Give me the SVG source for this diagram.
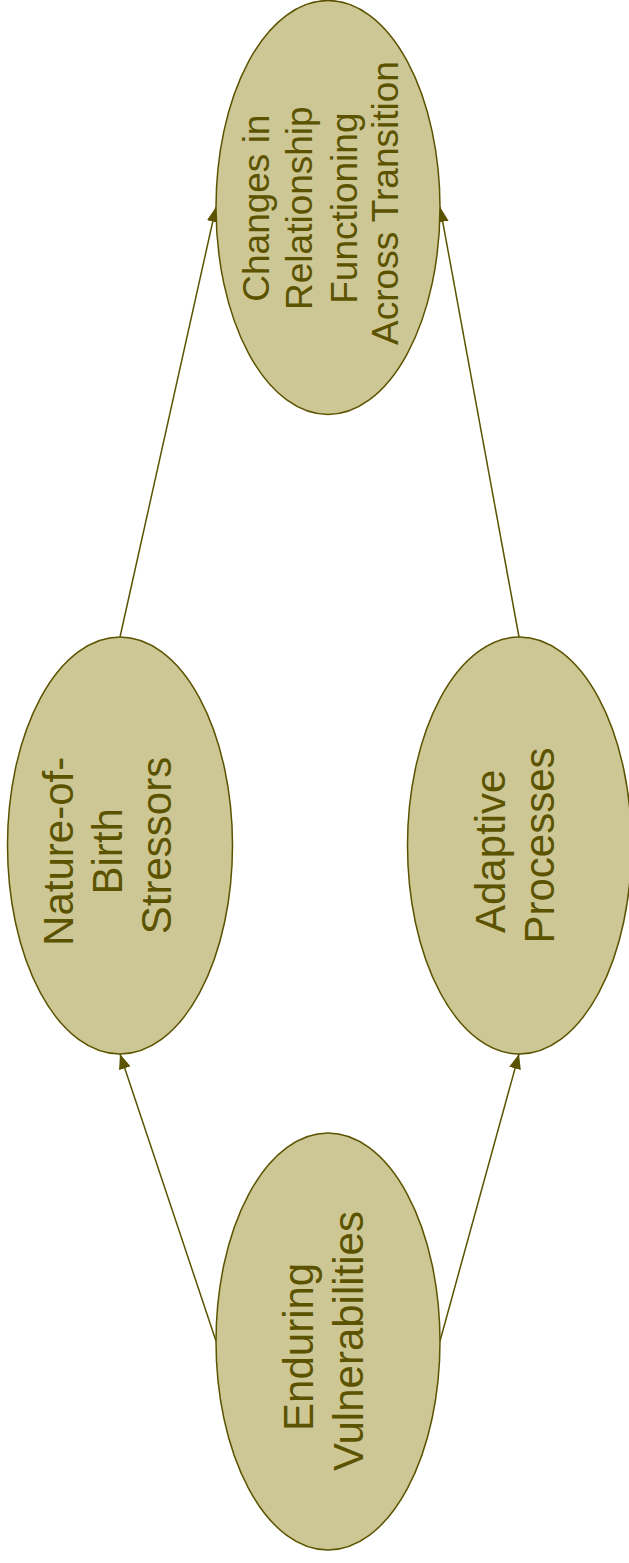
<svg xmlns="http://www.w3.org/2000/svg" width="629" height="1563" viewBox="0 0 629 1563">
<style>
.node{fill:#CCC794;stroke:#5C5300;stroke-width:1.5}
.lbl{font-family:"Liberation Sans",Arial,sans-serif;fill:#5C5300;text-anchor:middle}
.edge{stroke:#5C5300;stroke-width:1.5;fill:none;marker-end:url(#arr)}
</style>
<defs>
<marker id="arr" markerUnits="userSpaceOnUse" markerWidth="16" markerHeight="12" refX="15" refY="6" orient="auto">
<path d="M0,0 L15,6 L0,12 z" fill="#5C5300"/>
</marker>
</defs>
<rect width="629" height="1563" fill="#FFFFFF"/>
<g id="connectors">
<line class="edge" x1="120" y1="637" x2="216" y2="207"/>
<line class="edge" x1="519" y1="637" x2="440" y2="207"/>
<line class="edge" x1="216" y1="1341" x2="120" y2="1054"/>
<line class="edge" x1="440" y1="1341" x2="519" y2="1054"/>
</g>
<g id="changes">
<ellipse class="node" cx="328" cy="207.5" rx="112" ry="207"/>
<text class="lbl" font-size="37" transform="rotate(-90 328 203)">
<tspan x="328" y="144">Changes in</tspan>
<tspan x="328" y="186.7">Relationship</tspan>
<tspan x="328" y="231.7">Functioning</tspan>
<tspan x="328" y="273">Across Transition</tspan>
</text>
</g>
<g id="nature">
<ellipse class="node" cx="120" cy="845.5" rx="112.5" ry="208.5"/>
<text class="lbl" font-size="42" transform="rotate(-90 120 845.5)">
<tspan x="120" y="798">Nature-of-</tspan>
<tspan x="120" y="847">Birth</tspan>
<tspan x="120" y="896">Stressors</tspan>
</text>
</g>
<g id="adaptive">
<ellipse class="node" cx="519.5" cy="845.5" rx="112" ry="208.5"/>
<text class="lbl" font-size="42" transform="rotate(-90 519.5 845.5)">
<tspan x="519.5" y="831">Adaptive</tspan>
<tspan x="519.5" y="880">Processes</tspan>
</text>
</g>
<g id="enduring">
<ellipse class="node" cx="328" cy="1341.5" rx="112" ry="208.5"/>
<text class="lbl" font-size="42" transform="rotate(-90 328 1341)">
<tspan x="328" y="1326">Enduring</tspan>
<tspan x="328" y="1376">Vulnerabilities</tspan>
</text>
</g>
</svg>
